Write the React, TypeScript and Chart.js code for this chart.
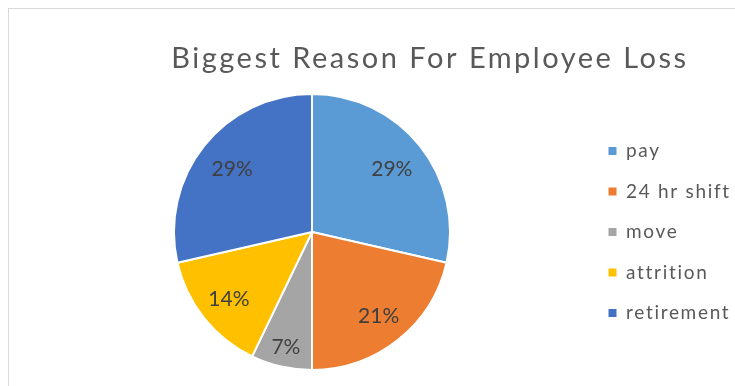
import React, { useEffect, useRef } from "react";
import { Chart, registerables } from "chart.js";

Chart.register(...registerables);

const TITLE = "Biggest Reason For Employee Loss";
const categories = ["pay", "24 hr shift", "move", "attrition", "retirement"];
const counts = [4, 3, 1, 2, 4];
const colors = ["#5B9BD5", "#ED7D31", "#A5A5A5", "#FFC000", "#4472C4"];

// style constants
const FONT = "Lato, 'Open Sans', sans-serif";
const LABEL_RADIUS = [0.74, 0.775, 0.85, 0.77, 0.74];
const LEGEND_SPACING = "1.7px";

const spacingPlugin = {
  id: "legendSpacing",
  beforeUpdate(chart: any) {
    (chart.ctx as any).letterSpacing = LEGEND_SPACING;
  },
  beforeDraw(chart: any) {
    (chart.ctx as any).letterSpacing = LEGEND_SPACING;
  },
  beforeDatasetsDraw(chart: any) {
    (chart.ctx as any).letterSpacing = "0px";
  },
};

const titlePlugin = {
  id: "customTitle",
  afterDraw(chart: any) {
    const ctx = chart.ctx;
    ctx.save();
    (ctx as any).letterSpacing = "2.5px";
    ctx.font = `29px ${FONT}`;
    ctx.fillStyle = "#595959";
    ctx.textAlign = "center";
    ctx.textBaseline = "alphabetic";
    ctx.fillText(TITLE, 421, 59);
    ctx.restore();
  },
};

const dataLabelPlugin = {
  id: "pctLabels",
  afterDatasetsDraw(chart: any) {
    const ctx = chart.ctx;
    const meta = chart.getDatasetMeta(0);
    const values: number[] = chart.data.datasets[0].data;
    const total = values.reduce((a, b) => a + b, 0);
    const fs = 21;
    ctx.save();
    (ctx as any).letterSpacing = "0px";
    ctx.font = `${fs}px ${FONT}`;
    ctx.fillStyle = "#404040";
    ctx.textAlign = "center";
    ctx.textBaseline = "alphabetic";
    meta.data.forEach((arc: any, i: number) => {
      const { x, y, startAngle, endAngle, outerRadius } = arc.getProps(
        ["x", "y", "startAngle", "endAngle", "outerRadius"],
        true
      );
      const mid = (startAngle + endAngle) / 2;
      const r = outerRadius * LABEL_RADIUS[i];
      const px = x + Math.cos(mid) * r;
      const py = y + Math.sin(mid) * r;
      const txt = Math.round((values[i] / total) * 100) + "%";
      ctx.fillText(txt, px, py + fs * 0.36);
    });
    ctx.restore();
  },
};

export default function App() {
  const ref = useRef<HTMLCanvasElement>(null);
  useEffect(() => {
    if (!ref.current) return;
    const chart = new Chart(ref.current, {
      type: "pie",
      data: {
        labels: categories,
        datasets: [
          {
            data: counts,
            backgroundColor: colors,
            borderColor: "#ffffff",
            borderWidth: 2,
          },
        ],
      },
      options: {
        animation: false,
        responsive: false,
        maintainAspectRatio: false,
        layout: { padding: { top: 84, bottom: 7, left: 28, right: 12 } },
        plugins: {
          title: { display: false },
          tooltip: { enabled: false },
          legend: {
            position: "right",
            fullSize: false,
            maxWidth: 150,
            labels: {
              boxWidth: 8,
              boxHeight: 8,
              padding: 21.5,
              color: "#595959",
              font: { family: FONT, size: 19 },
              generateLabels: () =>
                categories.map((text, i) => ({
                  text,
                  fillStyle: colors[i],
                  strokeStyle: colors[i],
                  lineWidth: 0,
                  fontColor: "#595959",
                  hidden: false,
                  index: i,
                })),
            },
          },
        },
      },
      plugins: [spacingPlugin, titlePlugin, dataLabelPlugin],
    });
    return () => chart.destroy();
  }, []);

  return (
    <div
      style={{
        position: "fixed",
        left: 8,
        top: 8,
        right: 0,
        bottom: 0,
        overflow: "hidden",
        background: "#fff",
      }}
    >
      <div
        style={{
          width: 800,
          height: 420,
          border: "1px solid #d9d9d9",
          boxSizing: "border-box",
          background: "#ffffff",
        }}
      >
        <canvas
          ref={ref}
          width={740}
          height={369}
          style={{ display: "block", width: 740, height: 369 }}
        />
      </div>
    </div>
  );
}
